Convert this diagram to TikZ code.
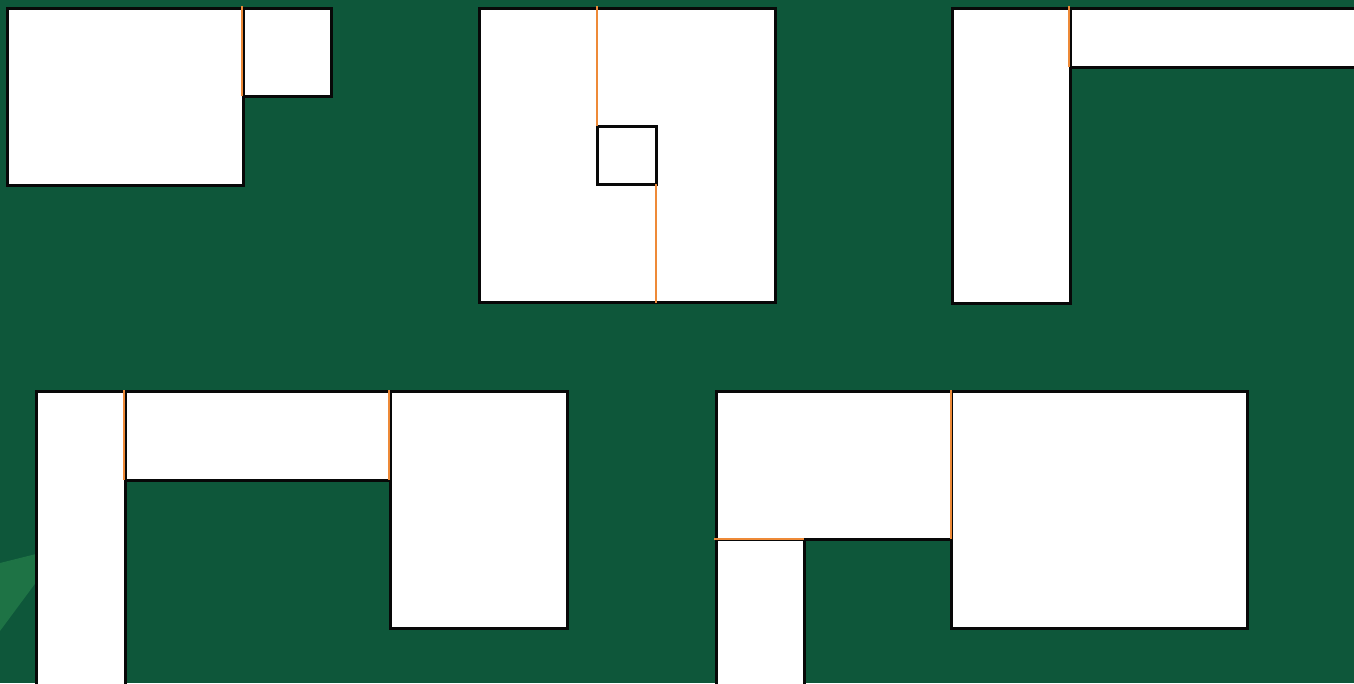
\documentclass[tikz,border=0pt]{standalone}
\definecolor{bggreen}{HTML}{0E573A}
\definecolor{raygreen}{HTML}{1E7345}
\definecolor{wallorange}{HTML}{EE8A38}
\definecolor{edgeblack}{HTML}{080808}
\tikzset{
  room/.style={fill=white,draw=edgeblack,line width=3pt},
  door/.style={draw=wallorange,line width=2pt},
}
\begin{document}
\begin{tikzpicture}[x=1pt,y=-1pt]
\useasboundingbox (0,0) rectangle (1354,683);
\clip (0,0) rectangle (1354,683);
\fill[bggreen] (0,0) rectangle (1354,683);
\fill[raygreen] (0,563) -- (40,553) -- (40,577) -- (0,631) -- cycle;
% group A
\draw[room] (7.5,8.5) rectangle (243.5,185.5);
\draw[room] (243.5,8.5) rectangle (331.5,96.5);
\draw[door] (242,6) -- (242,96);
% group B
\draw[room] (479.5,8.5) rectangle (775.5,302.5);
\draw[room] (597.5,126.5) rectangle (656.5,184.5);
\draw[door] (596.5,6) -- (596.5,126);
\draw[door] (655.5,184) -- (655.5,303);
% group C
\draw[room] (952.5,8.5) rectangle (1070.5,303.5);
\draw[room] (1070.5,8.5) rectangle (1362,67.5);
\draw[door] (1069,6) -- (1069,67);
% group D
\draw[room] (36.5,391.5) rectangle (125,692);
\draw[room] (125,391.5) rectangle (390.5,480.5);
\draw[room] (390.5,391.5) rectangle (567.5,628.5);
\draw[door] (124,390) -- (124,480);
\draw[door] (389,390) -- (389,480);
% group E
\draw[room] (716.5,391.5) rectangle (951.5,539.5);
\draw[room] (716.5,539.5) rectangle (804.5,692);
\draw[room] (951.5,391.5) rectangle (1247.5,628.5);
\draw[door] (951,390) -- (951,539);
\draw[door] (714,538.5) -- (804,538.5);
\end{tikzpicture}
\end{document}
